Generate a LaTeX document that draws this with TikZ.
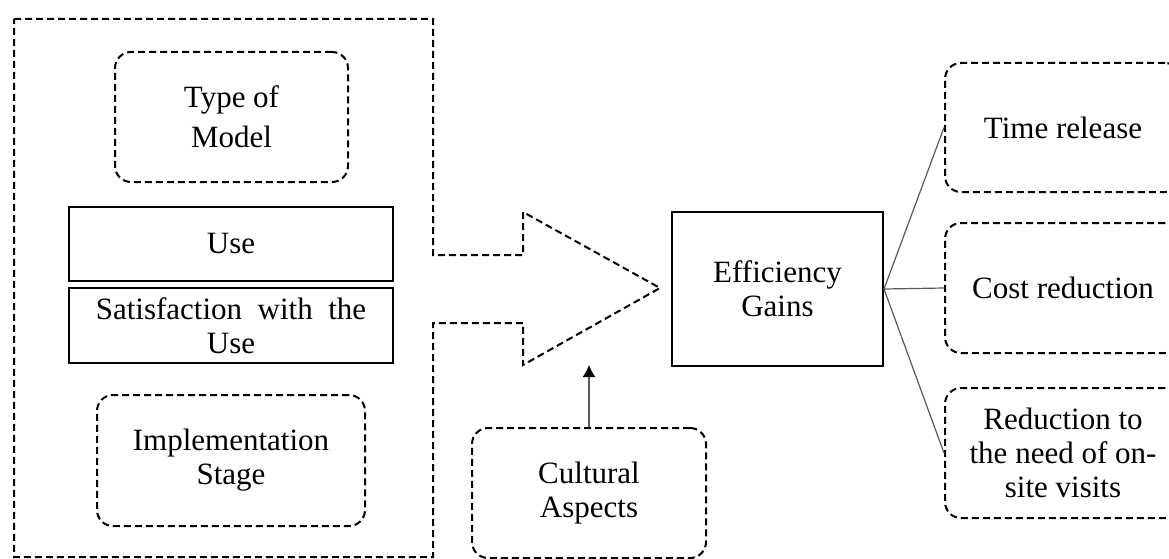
\documentclass[tikz,border=0pt]{standalone}
\usepackage{fontspec}
\setmainfont{Liberation Serif}
\usetikzlibrary{arrows.meta}
\begin{document}
\begin{tikzpicture}[x=1pt,y=-1pt,
  every node/.style={font=\fontsize{31}{34}\selectfont, align=center, inner sep=0pt},
  dashline/.style={draw=black, line width=2pt, dash pattern=on 7pt off 4pt},
  softbox/.style={dashline, rounded corners=16pt, rectangle},
  solidbox/.style={draw=black, line width=2pt, rectangle},
  link/.style={draw=black!65, line width=1.2pt},
]
\useasboundingbox (0,0) rectangle (1169,559);
\clip (0,0) rectangle (1169,559);

% outer frame joined to the block arrow
\draw[dashline, line join=miter]
  (14,19) -- (433,19) -- (433,255) -- (523,255) -- (523,212) -- (660,288)
  -- (523,365) -- (523,323) -- (433,323) -- (433,557) -- (14,557) -- cycle;

% factors inside the frame
\node[softbox, minimum width=233pt, minimum height=130pt,
  font=\fontsize{31}{40}\selectfont] (model) at (231.5,117) {Type of\\Model};
\node[solidbox, minimum width=324pt, minimum height=74pt] (use) at (231,244) {Use};
\node[solidbox, minimum width=324pt, minimum height=75pt] (satis) at (231,325.5)
  {\spaceskip=0.5em Satisfaction with the\\Use};
\node[softbox, minimum width=268pt, minimum height=131pt] (impl) at (231,460.5) {Implementation\\Stage};

% moderating factor
\node[softbox, minimum width=234pt, minimum height=130pt] (culture) at (589,493) {Cultural\\Aspects};
\coordinate (arrowbase) at (589,365);
\draw[link, -{Latex[length=12pt,width=13pt,fill=black,color=black]}] (culture.north) -- (arrowbase);

% outcome and its effects
\node[solidbox, minimum width=211pt, minimum height=154pt] (gains) at (777.5,289) {Efficiency\\Gains};
\node[softbox, minimum width=236pt, minimum height=129pt] (time) at (1063,127.5) {Time release};
\node[softbox, minimum width=236pt, minimum height=130pt] (cost) at (1063,288) {Cost reduction};
\node[softbox, minimum width=236pt, minimum height=130pt] (visits) at (1063,453) {Reduction to\\the need of on-\\site visits};

\draw[link] (gains.east) -- (time.west);
\draw[link] (gains.east) -- (cost.west);
\draw[link] (gains.east) -- (visits.west);
\end{tikzpicture}
\end{document}
